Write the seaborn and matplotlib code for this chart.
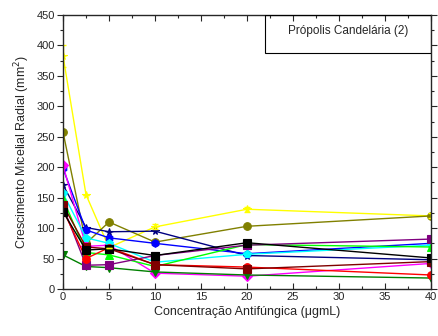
import matplotlib
matplotlib.use("Agg")
import matplotlib.pyplot as plt
from matplotlib.patches import Rectangle
from matplotlib.ticker import MultipleLocator
import seaborn as sns
import pandas as pd

conc = [0, 2.5, 5, 10, 20, 40]

series_names = ["S1", "S2", "S3", "S4", "S5", "S6",
                "S7", "S8", "S9", "S10", "S11", "S12"]
yellow = [383, 155, 68, 102, 131, 120]
olive = [258, 75, 110, 77, 103, 120]
navy = [171, 101, 94, 95, 55, 48]
blue = [198, 97, 84, 75, 58, 75]
magenta = [203, 70, 72, 26, 21, 42]
cyan = [157, 84, 75, 44, 57, 72]
lime = [148, 60, 56, 37, 73, 69]
darkgreen = [56, 37, 35, 28, 23, 18]
purple = [135, 39, 40, 55, 72, 82]
red = [130, 50, 68, 40, 36, 23]
wine = [138, 69, 66, 40, 33, 45]
black = [127, 64, 66, 55, 76, 51]

yellow_err = [18, 0, 0, 4, 4, 4]

colors = ["#ffff00", "#808000", "#000080", "#0000ff", "#ff00ff", "#00ffff",
          "#00ff00", "#008000", "#800080", "#ff0000", "#800000", "#000000"]
markers = ["*", "o", "*", "h", "D", "p", "^", "v", "s", "o", "s", "s"]
values = [yellow, olive, navy, blue, magenta, cyan,
          lime, darkgreen, purple, red, wine, black]

rows = []
for name, vals in zip(series_names, values):
    for c, v in zip(conc, vals):
        rows.append({"conc": c, "value": v, "serie": name})
df = pd.DataFrame(rows)

sns.set_style("ticks")
plt.rcParams["font.family"] = ["Liberation Sans", "DejaVu Sans"]

fig = plt.figure(figsize=(4.38, 3.36), dpi=100)
ax = fig.add_axes([63 / 438, 1 - 289 / 336, (431 - 63) / 438, (289 - 15) / 336])

sns.lineplot(data=df, x="conc", y="value", hue="serie", style="serie",
             hue_order=series_names, style_order=series_names,
             palette=colors, markers=dict(zip(series_names, markers)),
             dashes=False, markersize=5.5, linewidth=1.0,
             markeredgewidth=0.8, legend=False, ax=ax)

# markers filled and outlined in the series colour
for line in ax.lines:
    line.set_markeredgecolor(line.get_color())

ax.errorbar(conc, yellow, yerr=yellow_err, fmt="none", ecolor=colors[0],
            elinewidth=1.0, capsize=2)

ax.set_xlim(0, 40)
ax.set_ylim(0, 450)
ax.xaxis.set_major_locator(MultipleLocator(5))
ax.xaxis.set_minor_locator(MultipleLocator(2.5))
ax.yaxis.set_major_locator(MultipleLocator(50))
ax.yaxis.set_minor_locator(MultipleLocator(25))
ax.tick_params(which="both", direction="out", labelsize=8, width=0.8,
               top=True, right=True, pad=2)
ax.tick_params(which="major", length=4)
ax.tick_params(which="minor", length=2)
ax.tick_params(axis="x", which="both", top=True, direction="in")
ax.tick_params(axis="y", which="both", right=True)
for s in ax.spines.values():
    s.set_linewidth(1.0)

ax.set_xlabel("Concentração Antifúngica (μgmL)", fontsize=9, labelpad=3)
ax.set_ylabel("Crescimento Micelial Radial (mm$^2$)", fontsize=9, labelpad=3)

ax.add_patch(Rectangle((0.55, 0.862), 0.45, 0.138, transform=ax.transAxes,
                       fill=False, edgecolor="black", linewidth=0.8, zorder=5))
ax.text(0.775, 0.965, "Própolis Candelária (2)", transform=ax.transAxes,
        ha="center", va="top", fontsize=8.5, zorder=6)

fig.savefig("out.png", dpi=100)
